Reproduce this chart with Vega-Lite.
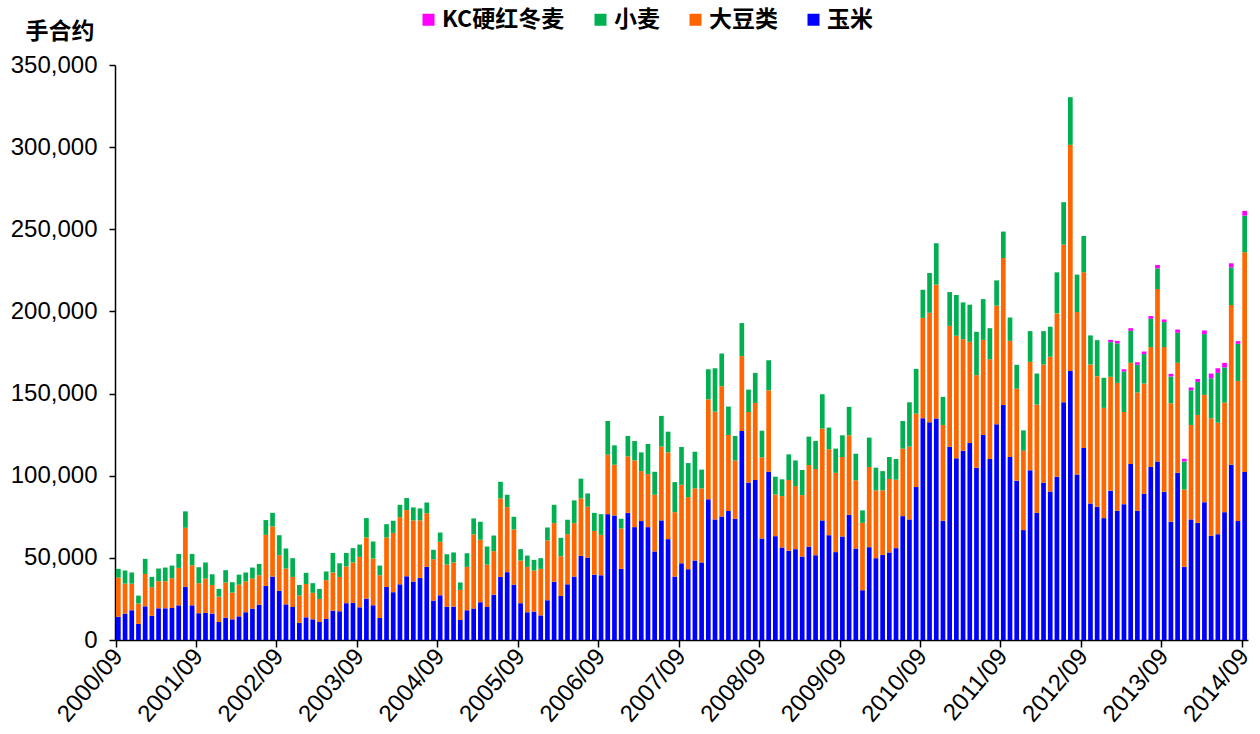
{
"$schema": "https://vega.github.io/schema/vega-lite/v6.json",
"width": 1133, "height": 575,
"autosize": "none",
"padding": {"left": 115, "top": 65, "right": 12, "bottom": 94},
"background": "white",
"config": {"view": {"stroke": null}, "font": "Liberation Sans"},
"data": {"values": [
{"m":"2000/09","c":14200,"s":23800,"w":5300},
{"m":"2000/10","c":16100,"s":18200,"w":8000},
{"m":"2000/11","c":18100,"s":16200,"w":6800},
{"m":"2000/12","c":9800,"s":12400,"w":4800},
{"m":"2001/01","c":20500,"s":19700,"w":9200},
{"m":"2001/02","c":14800,"s":17300,"w":6300},
{"m":"2001/03","c":19300,"s":16500,"w":7700},
{"m":"2001/04","c":19300,"s":16500,"w":8300},
{"m":"2001/05","c":19500,"s":18100,"w":7700},
{"m":"2001/06","c":21100,"s":22800,"w":8500},
{"m":"2001/07","c":32300,"s":36000,"w":10000},
{"m":"2001/08","c":21100,"s":24400,"w":6900},
{"m":"2001/09","c":16300,"s":18300,"w":9700},
{"m":"2001/10","c":16500,"s":20900,"w":9800},
{"m":"2001/11","c":16100,"s":17400,"w":6500},
{"m":"2001/12","c":11000,"s":15400,"w":4700},
{"m":"2002/01","c":13600,"s":21400,"w":7500},
{"m":"2002/02","c":12600,"s":16300,"w":6300},
{"m":"2002/03","c":14400,"s":19300,"w":6100},
{"m":"2002/04","c":16900,"s":18700,"w":5500},
{"m":"2002/05","c":19100,"s":18300,"w":6700},
{"m":"2002/06","c":21500,"s":17900,"w":6900},
{"m":"2002/07","c":32900,"s":31100,"w":9000},
{"m":"2002/08","c":38600,"s":30500,"w":8300},
{"m":"2002/09","c":29900,"s":21700,"w":12200},
{"m":"2002/10","c":21700,"s":21800,"w":12200},
{"m":"2002/11","c":20100,"s":18300,"w":11400},
{"m":"2002/12","c":10400,"s":16800,"w":6300},
{"m":"2003/01","c":13800,"s":20300,"w":6800},
{"m":"2003/02","c":12600,"s":16100,"w":5900},
{"m":"2003/03","c":11000,"s":14000,"w":6100},
{"m":"2003/04","c":12800,"s":23600,"w":5300},
{"m":"2003/05","c":17900,"s":23200,"w":11900},
{"m":"2003/06","c":17500,"s":20900,"w":8300},
{"m":"2003/07","c":22400,"s":22300,"w":8300},
{"m":"2003/08","c":22600,"s":24600,"w":8700},
{"m":"2003/09","c":19900,"s":30700,"w":7500},
{"m":"2003/10","c":25200,"s":37200,"w":11800},
{"m":"2003/11","c":21100,"s":28500,"w":10400},
{"m":"2003/12","c":13400,"s":26000,"w":5900},
{"m":"2004/01","c":32300,"s":30100,"w":8100},
{"m":"2004/02","c":29100,"s":36100,"w":7400},
{"m":"2004/03","c":33900,"s":40900,"w":7500},
{"m":"2004/04","c":38800,"s":40300,"w":7300},
{"m":"2004/05","c":35600,"s":37200,"w":7900},
{"m":"2004/06","c":37800,"s":35000,"w":7300},
{"m":"2004/07","c":44500,"s":32700,"w":6500},
{"m":"2004/08","c":24000,"s":25200,"w":5700},
{"m":"2004/09","c":27200,"s":32600,"w":5600},
{"m":"2004/10","c":20300,"s":25600,"w":6300},
{"m":"2004/11","c":20300,"s":26900,"w":6100},
{"m":"2004/12","c":12200,"s":18300,"w":4500},
{"m":"2005/01","c":18100,"s":26400,"w":8300},
{"m":"2005/02","c":19200,"s":45100,"w":9700},
{"m":"2005/03","c":23000,"s":38000,"w":11000},
{"m":"2005/04","c":20100,"s":25800,"w":11000},
{"m":"2005/05","c":27600,"s":26500,"w":9500},
{"m":"2005/06","c":38400,"s":47800,"w":10100},
{"m":"2005/07","c":41300,"s":39600,"w":7500},
{"m":"2005/08","c":33700,"s":33600,"w":7700},
{"m":"2005/09","c":22400,"s":26000,"w":6900},
{"m":"2005/10","c":16900,"s":27600,"w":6900},
{"m":"2005/11","c":17300,"s":25000,"w":6500},
{"m":"2005/12","c":15000,"s":28300,"w":6500},
{"m":"2006/01","c":24200,"s":36400,"w":7900},
{"m":"2006/02","c":35400,"s":35700,"w":11200},
{"m":"2006/03","c":26800,"s":24200,"w":11200},
{"m":"2006/04","c":33900,"s":30500,"w":8800},
{"m":"2006/05","c":38600,"s":32500,"w":13900},
{"m":"2006/06","c":51200,"s":35000,"w":12000},
{"m":"2006/07","c":50200,"s":30900,"w":8100},
{"m":"2006/08","c":39800,"s":26600,"w":11000},
{"m":"2006/09","c":39400,"s":24600,"w":12600},
{"m":"2006/10","c":76600,"s":36200,"w":20500},
{"m":"2006/11","c":75800,"s":30900,"w":11800},
{"m":"2006/12","c":43300,"s":24600,"w":5900},
{"m":"2007/01","c":77400,"s":34400,"w":12400},
{"m":"2007/02","c":68700,"s":40600,"w":11800},
{"m":"2007/03","c":72400,"s":30400,"w":11400},
{"m":"2007/04","c":68700,"s":32300,"w":18300},
{"m":"2007/05","c":53900,"s":34500,"w":14000},
{"m":"2007/06","c":72800,"s":44900,"w":18700},
{"m":"2007/07","c":61400,"s":52800,"w":12600},
{"m":"2007/08","c":38600,"s":39200,"w":18300},
{"m":"2007/09","c":46700,"s":47800,"w":23000},
{"m":"2007/10","c":43100,"s":43900,"w":20700},
{"m":"2007/11","c":48400,"s":43900,"w":22300},
{"m":"2007/12","c":47200,"s":45100,"w":11400},
{"m":"2008/01","c":85600,"s":60900,"w":18300},
{"m":"2008/02","c":73400,"s":65600,"w":26400},
{"m":"2008/03","c":75200,"s":79300,"w":19900},
{"m":"2008/04","c":78500,"s":46300,"w":17300},
{"m":"2008/05","c":73800,"s":35500,"w":14900},
{"m":"2008/06","c":127200,"s":45600,"w":20100},
{"m":"2008/07","c":95900,"s":42900,"w":13600},
{"m":"2008/08","c":97400,"s":46900,"w":18300},
{"m":"2008/09","c":61800,"s":49400,"w":16200},
{"m":"2008/10","c":102400,"s":49600,"w":18300},
{"m":"2008/11","c":63200,"s":25400,"w":10800},
{"m":"2008/12","c":56300,"s":31300,"w":10200},
{"m":"2009/01","c":54300,"s":43100,"w":15600},
{"m":"2009/02","c":55300,"s":38400,"w":15600},
{"m":"2009/03","c":50800,"s":37400,"w":15300},
{"m":"2009/04","c":56900,"s":49600,"w":17300},
{"m":"2009/05","c":51600,"s":52500,"w":17000},
{"m":"2009/06","c":72800,"s":55900,"w":20900},
{"m":"2009/07","c":63800,"s":52300,"w":13200},
{"m":"2009/08","c":53500,"s":48300,"w":14700},
{"m":"2009/09","c":63000,"s":48400,"w":13200},
{"m":"2009/10","c":76200,"s":48400,"w":17300},
{"m":"2009/11","c":55700,"s":41500,"w":16200},
{"m":"2009/12","c":30300,"s":41000,"w":7600},
{"m":"2010/01","c":56500,"s":48800,"w":17900},
{"m":"2010/02","c":49800,"s":41300,"w":13800},
{"m":"2010/03","c":51800,"s":39300,"w":11700},
{"m":"2010/04","c":53300,"s":44700,"w":13400},
{"m":"2010/05","c":55900,"s":41700,"w":12600},
{"m":"2010/06","c":75400,"s":41100,"w":16800},
{"m":"2010/07","c":73400,"s":44300,"w":27000},
{"m":"2010/08","c":93100,"s":44700,"w":27200},
{"m":"2010/09","c":135000,"s":61100,"w":17100},
{"m":"2010/10","c":132500,"s":66700,"w":24200},
{"m":"2010/11","c":134800,"s":81500,"w":25200},
{"m":"2010/12","c":72600,"s":58300,"w":17100},
{"m":"2011/01","c":117600,"s":73600,"w":20600},
{"m":"2011/02","c":110600,"s":74600,"w":24800},
{"m":"2011/03","c":115200,"s":67900,"w":22400},
{"m":"2011/04","c":119900,"s":61600,"w":22600},
{"m":"2011/05","c":104900,"s":56300,"w":26400},
{"m":"2011/06","c":124800,"s":57900,"w":24800},
{"m":"2011/07","c":110200,"s":60700,"w":18900},
{"m":"2011/08","c":131300,"s":72200,"w":15400},
{"m":"2011/09","c":143100,"s":89400,"w":16100},
{"m":"2011/10","c":111400,"s":70700,"w":14200},
{"m":"2011/11","c":97000,"s":56000,"w":14500},
{"m":"2011/12","c":66900,"s":48300,"w":12400},
{"m":"2012/01","c":103300,"s":66000,"w":18700},
{"m":"2012/02","c":77400,"s":65900,"w":18900},
{"m":"2012/03","c":95700,"s":72000,"w":20300},
{"m":"2012/04","c":90400,"s":82000,"w":18300},
{"m":"2012/05","c":99400,"s":99400,"w":25000},
{"m":"2012/06","c":144700,"s":96000,"w":25800},
{"m":"2012/07","c":163800,"s":137600,"w":29000},
{"m":"2012/08","c":100800,"s":98800,"w":22800},
{"m":"2012/09","c":116900,"s":106900,"w":22100},
{"m":"2012/10","c":83100,"s":84600,"w":17700},
{"m":"2012/11","c":81100,"s":79500,"w":21900},
{"m":"2012/12","c":74200,"s":67100,"w":18300},
{"m":"2013/01","c":90900,"s":69300,"w":21100,"k":1400},
{"m":"2013/02","c":78700,"s":77800,"w":24000,"k":1600},
{"m":"2013/03","c":82700,"s":56100,"w":24600,"k":1400},
{"m":"2013/04","c":107100,"s":61600,"w":19500,"k":1600},
{"m":"2013/05","c":78700,"s":71900,"w":16900,"k":1600},
{"m":"2013/06","c":89000,"s":67100,"w":17900,"k":1600},
{"m":"2013/07","c":105300,"s":73000,"w":17200,"k":1700},
{"m":"2013/08","c":108700,"s":104900,"w":12600,"k":2100},
{"m":"2013/09","c":90200,"s":88100,"w":15200,"k":1600},
{"m":"2013/10","c":72000,"s":72100,"w":16300,"k":1600},
{"m":"2013/11","c":101800,"s":66900,"w":18300,"k":2000},
{"m":"2013/12","c":44500,"s":47100,"w":17000,"k":1700},
{"m":"2014/01","c":73400,"s":57500,"w":21100,"k":1700},
{"m":"2014/02","c":71300,"s":65700,"w":20100,"k":1800},
{"m":"2014/03","c":83900,"s":65300,"w":37000,"k":2200},
{"m":"2014/04","c":63400,"s":71600,"w":24300,"k":2900},
{"m":"2014/05","c":64400,"s":67900,"w":30300,"k":2800},
{"m":"2014/06","c":77800,"s":66700,"w":21400,"k":2800},
{"m":"2014/07","c":106700,"s":97200,"w":22900,"k":2500},
{"m":"2014/08","c":72400,"s":85300,"w":22600,"k":1600},
{"m":"2014/09","c":102200,"s":133800,"w":22300,"k":2900}
]},
"transform": [
  {"fold": ["c", "s", "w", "k"], "as": ["key", "value"]},
  {"filter": "isValid(datum.value)"},
  {"calculate": "indexof(['c','s','w','k'], datum.key)", "as": "ord"},
  {"calculate": "{'c':'玉米','s':'大豆类','w':'小麦','k':'KC硬红冬麦'}[datum.key]", "as": "series"}
],
"mark": {"type": "bar"},
"encoding": {
  "x": {"field": "m", "type": "ordinal",
        "scale": {"paddingInner": 0.3, "paddingOuter": 0.15},
        "axis": {"values": ["2000/09","2001/09","2002/09","2003/09","2004/09","2005/09","2006/09","2007/09","2008/09","2009/09","2010/09","2011/09","2012/09","2013/09","2014/09"],
                 "bandPosition": 0, "title": null, "labelAngle": -50, "labelAlign": "right", "labelBaseline": "middle",
                 "labelFont": "Liberation Sans", "labelFontSize": 24, "labelColor": "black", "labelPadding": 5,
                 "domainColor": "black", "domainWidth": 1.5, "tickColor": "black", "tickWidth": 1.5, "tickSize": 7, "grid": false}},
  "y": {"field": "value", "type": "quantitative", "stack": "zero",
        "scale": {"domain": [0, 350000], "nice": false},
        "axis": {"values": [0,50000,100000,150000,200000,250000,300000,350000], "format": ",.0f", "grid": false,
                 "labelFont": "Liberation Sans", "labelFontSize": 24, "labelColor": "black", "labelPadding": 12,
                 "domainColor": "black", "domainWidth": 1.5, "tickColor": "black", "tickWidth": 1.5, "tickSize": 6,
                 "title": "手合约", "titleAngle": 0, "titleX": -90, "titleY": -34, "titleAlign": "left", "titleBaseline": "middle",
                 "titleFont": "Noto Sans CJK SC", "titleFontSize": 23, "titleFontWeight": "bold", "titleColor": "black"}},
  "color": {"field": "series", "type": "nominal",
            "scale": {"domain": ["KC硬红冬麦", "小麦", "大豆类", "玉米"], "range": ["#FF00FF", "#00B050", "#FF6600", "#0000FF"]},
            "legend": {"orient": "none", "legendX": 302, "legendY": -57, "direction": "horizontal", "title": null,
                       "symbolType": "square", "symbolSize": 144, "symbolStrokeWidth": 0,
                       "labelFont": "Noto Sans CJK SC", "labelFontSize": 23, "labelFontWeight": "bold", "labelColor": "black",
                       "labelOffset": 2, "columnPadding": 24}},
  "order": {"field": "ord", "type": "quantitative", "sort": "ascending"}
}
}
